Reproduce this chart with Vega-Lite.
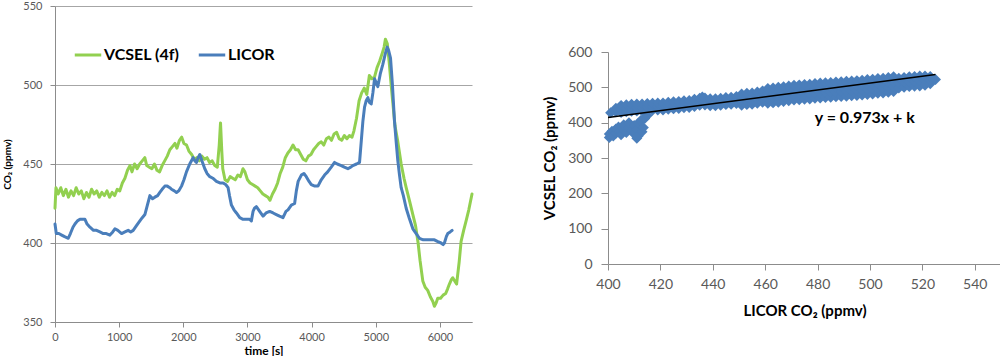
{
"$schema": "https://vega.github.io/schema/vega-lite/v6.json",
"padding": {"left": 2, "top": 0, "right": 0, "bottom": 0},
"spacing": 68,
"config": {
  "font": "Lato",
  "view": {"stroke": null},
  "axis": {"domainColor": "#8c8c8c", "tickColor": "#8c8c8c", "labelColor": "#595959", "titleColor": "#000000", "titleFontWeight": "bold", "grid": false, "labelFont": "Lato", "titleFont": "Lato", "labelFlush": false}
},
"datasets": {
"ts": [
{"s":"VCSEL (4f)","t":0,"v":422},{"s":"VCSEL (4f)","t":15,"v":435},{"s":"VCSEL (4f)","t":50,"v":431},{"s":"VCSEL (4f)","t":90,"v":435},{"s":"VCSEL (4f)","t":130,"v":430},{"s":"VCSEL (4f)","t":170,"v":434},{"s":"VCSEL (4f)","t":210,"v":429},{"s":"VCSEL (4f)","t":250,"v":433},{"s":"VCSEL (4f)","t":290,"v":430},{"s":"VCSEL (4f)","t":330,"v":435},{"s":"VCSEL (4f)","t":370,"v":431},{"s":"VCSEL (4f)","t":410,"v":433},{"s":"VCSEL (4f)","t":450,"v":428},{"s":"VCSEL (4f)","t":490,"v":432},{"s":"VCSEL (4f)","t":530,"v":429},{"s":"VCSEL (4f)","t":570,"v":434},{"s":"VCSEL (4f)","t":610,"v":431},{"s":"VCSEL (4f)","t":650,"v":433},{"s":"VCSEL (4f)","t":690,"v":429},{"s":"VCSEL (4f)","t":730,"v":432},{"s":"VCSEL (4f)","t":770,"v":430},{"s":"VCSEL (4f)","t":810,"v":433},{"s":"VCSEL (4f)","t":850,"v":429},{"s":"VCSEL (4f)","t":890,"v":432},{"s":"VCSEL (4f)","t":930,"v":430},{"s":"VCSEL (4f)","t":970,"v":434},{"s":"VCSEL (4f)","t":1010,"v":433},{"s":"VCSEL (4f)","t":1050,"v":438},{"s":"VCSEL (4f)","t":1090,"v":441},{"s":"VCSEL (4f)","t":1130,"v":446},{"s":"VCSEL (4f)","t":1170,"v":449},{"s":"VCSEL (4f)","t":1200,"v":445},{"s":"VCSEL (4f)","t":1240,"v":450},{"s":"VCSEL (4f)","t":1280,"v":447},{"s":"VCSEL (4f)","t":1320,"v":450},{"s":"VCSEL (4f)","t":1360,"v":452},{"s":"VCSEL (4f)","t":1400,"v":454},{"s":"VCSEL (4f)","t":1430,"v":449},{"s":"VCSEL (4f)","t":1470,"v":448},{"s":"VCSEL (4f)","t":1510,"v":447},{"s":"VCSEL (4f)","t":1550,"v":450},{"s":"VCSEL (4f)","t":1590,"v":446},{"s":"VCSEL (4f)","t":1630,"v":445},{"s":"VCSEL (4f)","t":1670,"v":449},{"s":"VCSEL (4f)","t":1710,"v":452},{"s":"VCSEL (4f)","t":1750,"v":455},{"s":"VCSEL (4f)","t":1790,"v":459},{"s":"VCSEL (4f)","t":1830,"v":461},{"s":"VCSEL (4f)","t":1870,"v":463},{"s":"VCSEL (4f)","t":1900,"v":460},{"s":"VCSEL (4f)","t":1940,"v":465},{"s":"VCSEL (4f)","t":1975,"v":467},{"s":"VCSEL (4f)","t":2010,"v":463},{"s":"VCSEL (4f)","t":2050,"v":462},{"s":"VCSEL (4f)","t":2090,"v":458},{"s":"VCSEL (4f)","t":2130,"v":456},{"s":"VCSEL (4f)","t":2170,"v":453},{"s":"VCSEL (4f)","t":2210,"v":454},{"s":"VCSEL (4f)","t":2250,"v":452},{"s":"VCSEL (4f)","t":2290,"v":455},{"s":"VCSEL (4f)","t":2330,"v":453},{"s":"VCSEL (4f)","t":2370,"v":454},{"s":"VCSEL (4f)","t":2410,"v":451},{"s":"VCSEL (4f)","t":2450,"v":452},{"s":"VCSEL (4f)","t":2490,"v":449},{"s":"VCSEL (4f)","t":2530,"v":448},{"s":"VCSEL (4f)","t":2560,"v":462},{"s":"VCSEL (4f)","t":2580,"v":476},{"s":"VCSEL (4f)","t":2600,"v":458},{"s":"VCSEL (4f)","t":2615,"v":447},{"s":"VCSEL (4f)","t":2650,"v":440},{"s":"VCSEL (4f)","t":2690,"v":439},{"s":"VCSEL (4f)","t":2730,"v":442},{"s":"VCSEL (4f)","t":2770,"v":441},{"s":"VCSEL (4f)","t":2810,"v":440},{"s":"VCSEL (4f)","t":2850,"v":443},{"s":"VCSEL (4f)","t":2890,"v":442},{"s":"VCSEL (4f)","t":2930,"v":447},{"s":"VCSEL (4f)","t":2960,"v":445},{"s":"VCSEL (4f)","t":3000,"v":440},{"s":"VCSEL (4f)","t":3040,"v":438},{"s":"VCSEL (4f)","t":3080,"v":437},{"s":"VCSEL (4f)","t":3120,"v":436},{"s":"VCSEL (4f)","t":3160,"v":435},{"s":"VCSEL (4f)","t":3200,"v":433},{"s":"VCSEL (4f)","t":3240,"v":431},{"s":"VCSEL (4f)","t":3280,"v":430},{"s":"VCSEL (4f)","t":3320,"v":429},{"s":"VCSEL (4f)","t":3350,"v":427},{"s":"VCSEL (4f)","t":3390,"v":431},{"s":"VCSEL (4f)","t":3430,"v":434},{"s":"VCSEL (4f)","t":3470,"v":438},{"s":"VCSEL (4f)","t":3510,"v":444},{"s":"VCSEL (4f)","t":3550,"v":448},{"s":"VCSEL (4f)","t":3590,"v":454},{"s":"VCSEL (4f)","t":3630,"v":457},{"s":"VCSEL (4f)","t":3670,"v":459},{"s":"VCSEL (4f)","t":3710,"v":462},{"s":"VCSEL (4f)","t":3750,"v":459},{"s":"VCSEL (4f)","t":3790,"v":459},{"s":"VCSEL (4f)","t":3830,"v":456},{"s":"VCSEL (4f)","t":3870,"v":453},{"s":"VCSEL (4f)","t":3910,"v":452},{"s":"VCSEL (4f)","t":3950,"v":455},{"s":"VCSEL (4f)","t":3990,"v":456},{"s":"VCSEL (4f)","t":4030,"v":459},{"s":"VCSEL (4f)","t":4070,"v":461},{"s":"VCSEL (4f)","t":4110,"v":463},{"s":"VCSEL (4f)","t":4150,"v":464},{"s":"VCSEL (4f)","t":4190,"v":462},{"s":"VCSEL (4f)","t":4230,"v":466},{"s":"VCSEL (4f)","t":4270,"v":467},{"s":"VCSEL (4f)","t":4310,"v":465},{"s":"VCSEL (4f)","t":4350,"v":469},{"s":"VCSEL (4f)","t":4390,"v":470},{"s":"VCSEL (4f)","t":4430,"v":466},{"s":"VCSEL (4f)","t":4470,"v":465},{"s":"VCSEL (4f)","t":4510,"v":468},{"s":"VCSEL (4f)","t":4550,"v":466},{"s":"VCSEL (4f)","t":4590,"v":468},{"s":"VCSEL (4f)","t":4630,"v":467},{"s":"VCSEL (4f)","t":4660,"v":471},{"s":"VCSEL (4f)","t":4700,"v":479},{"s":"VCSEL (4f)","t":4740,"v":490},{"s":"VCSEL (4f)","t":4780,"v":495},{"s":"VCSEL (4f)","t":4820,"v":498},{"s":"VCSEL (4f)","t":4860,"v":494},{"s":"VCSEL (4f)","t":4900,"v":506},{"s":"VCSEL (4f)","t":4940,"v":504},{"s":"VCSEL (4f)","t":4980,"v":505},{"s":"VCSEL (4f)","t":5020,"v":511},{"s":"VCSEL (4f)","t":5060,"v":515},{"s":"VCSEL (4f)","t":5100,"v":520},{"s":"VCSEL (4f)","t":5130,"v":524},{"s":"VCSEL (4f)","t":5150,"v":529},{"s":"VCSEL (4f)","t":5180,"v":526},{"s":"VCSEL (4f)","t":5210,"v":514},{"s":"VCSEL (4f)","t":5240,"v":500},{"s":"VCSEL (4f)","t":5270,"v":487},{"s":"VCSEL (4f)","t":5300,"v":474},{"s":"VCSEL (4f)","t":5340,"v":465},{"s":"VCSEL (4f)","t":5396,"v":450},{"s":"VCSEL (4f)","t":5440,"v":441},{"s":"VCSEL (4f)","t":5474,"v":435},{"s":"VCSEL (4f)","t":5530,"v":426},{"s":"VCSEL (4f)","t":5578,"v":418},{"s":"VCSEL (4f)","t":5620,"v":411},{"s":"VCSEL (4f)","t":5660,"v":400},{"s":"VCSEL (4f)","t":5690,"v":389},{"s":"VCSEL (4f)","t":5733,"v":376},{"s":"VCSEL (4f)","t":5770,"v":372},{"s":"VCSEL (4f)","t":5810,"v":370},{"s":"VCSEL (4f)","t":5850,"v":366},{"s":"VCSEL (4f)","t":5890,"v":363},{"s":"VCSEL (4f)","t":5914,"v":360},{"s":"VCSEL (4f)","t":5940,"v":362},{"s":"VCSEL (4f)","t":5966,"v":365},{"s":"VCSEL (4f)","t":6010,"v":365},{"s":"VCSEL (4f)","t":6050,"v":367},{"s":"VCSEL (4f)","t":6090,"v":368},{"s":"VCSEL (4f)","t":6120,"v":371},{"s":"VCSEL (4f)","t":6148,"v":374},{"s":"VCSEL (4f)","t":6180,"v":377},{"s":"VCSEL (4f)","t":6200,"v":378},{"s":"VCSEL (4f)","t":6230,"v":376},{"s":"VCSEL (4f)","t":6260,"v":374},{"s":"VCSEL (4f)","t":6300,"v":388},{"s":"VCSEL (4f)","t":6330,"v":401},{"s":"VCSEL (4f)","t":6370,"v":408},{"s":"VCSEL (4f)","t":6408,"v":414},{"s":"VCSEL (4f)","t":6450,"v":421},{"s":"VCSEL (4f)","t":6500,"v":431},
{"s":"LICOR","t":0,"v":412},{"s":"LICOR","t":20,"v":406},{"s":"LICOR","t":60,"v":406},{"s":"LICOR","t":104,"v":405},{"s":"LICOR","t":150,"v":404},{"s":"LICOR","t":207,"v":403},{"s":"LICOR","t":240,"v":406},{"s":"LICOR","t":280,"v":410},{"s":"LICOR","t":311,"v":412},{"s":"LICOR","t":350,"v":414},{"s":"LICOR","t":389,"v":415},{"s":"LICOR","t":430,"v":415},{"s":"LICOR","t":467,"v":415},{"s":"LICOR","t":500,"v":412},{"s":"LICOR","t":545,"v":410},{"s":"LICOR","t":600,"v":408},{"s":"LICOR","t":648,"v":408},{"s":"LICOR","t":700,"v":407},{"s":"LICOR","t":752,"v":406},{"s":"LICOR","t":800,"v":406},{"s":"LICOR","t":856,"v":405},{"s":"LICOR","t":900,"v":407},{"s":"LICOR","t":934,"v":409},{"s":"LICOR","t":980,"v":408},{"s":"LICOR","t":1038,"v":406},{"s":"LICOR","t":1090,"v":407},{"s":"LICOR","t":1141,"v":408},{"s":"LICOR","t":1180,"v":407},{"s":"LICOR","t":1219,"v":408},{"s":"LICOR","t":1270,"v":411},{"s":"LICOR","t":1323,"v":414},{"s":"LICOR","t":1360,"v":416},{"s":"LICOR","t":1401,"v":418},{"s":"LICOR","t":1440,"v":424},{"s":"LICOR","t":1479,"v":430},{"s":"LICOR","t":1520,"v":428},{"s":"LICOR","t":1556,"v":429},{"s":"LICOR","t":1600,"v":430},{"s":"LICOR","t":1634,"v":432},{"s":"LICOR","t":1670,"v":434},{"s":"LICOR","t":1712,"v":436},{"s":"LICOR","t":1750,"v":436},{"s":"LICOR","t":1790,"v":435},{"s":"LICOR","t":1816,"v":434},{"s":"LICOR","t":1860,"v":433},{"s":"LICOR","t":1894,"v":432},{"s":"LICOR","t":1930,"v":433},{"s":"LICOR","t":1972,"v":436},{"s":"LICOR","t":2010,"v":440},{"s":"LICOR","t":2049,"v":445},{"s":"LICOR","t":2100,"v":450},{"s":"LICOR","t":2153,"v":454},{"s":"LICOR","t":2180,"v":452},{"s":"LICOR","t":2205,"v":451},{"s":"LICOR","t":2230,"v":454},{"s":"LICOR","t":2257,"v":456},{"s":"LICOR","t":2290,"v":452},{"s":"LICOR","t":2335,"v":447},{"s":"LICOR","t":2370,"v":444},{"s":"LICOR","t":2413,"v":442},{"s":"LICOR","t":2460,"v":441},{"s":"LICOR","t":2516,"v":439},{"s":"LICOR","t":2570,"v":438},{"s":"LICOR","t":2620,"v":438},{"s":"LICOR","t":2660,"v":437},{"s":"LICOR","t":2698,"v":435},{"s":"LICOR","t":2720,"v":430},{"s":"LICOR","t":2750,"v":424},{"s":"LICOR","t":2790,"v":421},{"s":"LICOR","t":2828,"v":419},{"s":"LICOR","t":2880,"v":416},{"s":"LICOR","t":2931,"v":415},{"s":"LICOR","t":2980,"v":415},{"s":"LICOR","t":3035,"v":415},{"s":"LICOR","t":3061,"v":414},{"s":"LICOR","t":3087,"v":420},{"s":"LICOR","t":3110,"v":422},{"s":"LICOR","t":3139,"v":423},{"s":"LICOR","t":3190,"v":420},{"s":"LICOR","t":3243,"v":417},{"s":"LICOR","t":3290,"v":419},{"s":"LICOR","t":3346,"v":420},{"s":"LICOR","t":3400,"v":419},{"s":"LICOR","t":3450,"v":418},{"s":"LICOR","t":3500,"v":417},{"s":"LICOR","t":3554,"v":416},{"s":"LICOR","t":3600,"v":420},{"s":"LICOR","t":3632,"v":421},{"s":"LICOR","t":3684,"v":424},{"s":"LICOR","t":3735,"v":425},{"s":"LICOR","t":3762,"v":433},{"s":"LICOR","t":3790,"v":439},{"s":"LICOR","t":3840,"v":443},{"s":"LICOR","t":3880,"v":444},{"s":"LICOR","t":3917,"v":442},{"s":"LICOR","t":3960,"v":439},{"s":"LICOR","t":3995,"v":437},{"s":"LICOR","t":4050,"v":436},{"s":"LICOR","t":4099,"v":436},{"s":"LICOR","t":4150,"v":440},{"s":"LICOR","t":4202,"v":443},{"s":"LICOR","t":4250,"v":445},{"s":"LICOR","t":4306,"v":448},{"s":"LICOR","t":4358,"v":451},{"s":"LICOR","t":4400,"v":450},{"s":"LICOR","t":4462,"v":449},{"s":"LICOR","t":4510,"v":448},{"s":"LICOR","t":4565,"v":447},{"s":"LICOR","t":4610,"v":448},{"s":"LICOR","t":4643,"v":449},{"s":"LICOR","t":4700,"v":450},{"s":"LICOR","t":4747,"v":451},{"s":"LICOR","t":4775,"v":465},{"s":"LICOR","t":4799,"v":477},{"s":"LICOR","t":4825,"v":486},{"s":"LICOR","t":4850,"v":490},{"s":"LICOR","t":4877,"v":492},{"s":"LICOR","t":4900,"v":489},{"s":"LICOR","t":4929,"v":488},{"s":"LICOR","t":4955,"v":495},{"s":"LICOR","t":4981,"v":504},{"s":"LICOR","t":5010,"v":501},{"s":"LICOR","t":5032,"v":499},{"s":"LICOR","t":5070,"v":507},{"s":"LICOR","t":5110,"v":513},{"s":"LICOR","t":5150,"v":520},{"s":"LICOR","t":5178,"v":524},{"s":"LICOR","t":5200,"v":522},{"s":"LICOR","t":5230,"v":517},{"s":"LICOR","t":5260,"v":500},{"s":"LICOR","t":5292,"v":477},{"s":"LICOR","t":5320,"v":463},{"s":"LICOR","t":5344,"v":452},{"s":"LICOR","t":5370,"v":443},{"s":"LICOR","t":5396,"v":435},{"s":"LICOR","t":5430,"v":430},{"s":"LICOR","t":5474,"v":422},{"s":"LICOR","t":5520,"v":416},{"s":"LICOR","t":5578,"v":409},{"s":"LICOR","t":5630,"v":406},{"s":"LICOR","t":5681,"v":403},{"s":"LICOR","t":5740,"v":402},{"s":"LICOR","t":5810,"v":402},{"s":"LICOR","t":5860,"v":402},{"s":"LICOR","t":5914,"v":402},{"s":"LICOR","t":5960,"v":401},{"s":"LICOR","t":6018,"v":400},{"s":"LICOR","t":6050,"v":399},{"s":"LICOR","t":6070,"v":400},{"s":"LICOR","t":6100,"v":404},{"s":"LICOR","t":6122,"v":406},{"s":"LICOR","t":6160,"v":407},{"s":"LICOR","t":6190,"v":408}
],
"sc": [
{"l":401,"v":428},{"l":403,"v":431},{"l":403,"v":441},
{"l":405,"v":429},{"l":405,"v":439},{"l":405,"v":449},{"l":407,"v":431},{"l":407,"v":441},{"l":407,"v":451},{"l":409,"v":432},{"l":409,"v":442},{"l":409,"v":452},{"l":411,"v":433},{"l":411,"v":443},{"l":411,"v":453},{"l":413,"v":433},{"l":413,"v":443},{"l":413,"v":453},{"l":415,"v":434},{"l":415,"v":444},{"l":415,"v":454},{"l":417,"v":435},{"l":417,"v":445},{"l":417,"v":455},{"l":419,"v":436},{"l":419,"v":446},{"l":419,"v":456},{"l":421,"v":436},{"l":421,"v":446},{"l":421,"v":456},{"l":423,"v":438},{"l":423,"v":448},{"l":423,"v":458},{"l":425,"v":439},{"l":425,"v":449},{"l":425,"v":459},{"l":427,"v":440},{"l":427,"v":450},{"l":427,"v":460},{"l":429,"v":442},{"l":429,"v":452},{"l":429,"v":462},{"l":431,"v":443},{"l":431,"v":453},{"l":431,"v":463},{"l":433,"v":446},{"l":433,"v":456},{"l":433,"v":466},{"l":435,"v":449},{"l":435,"v":459},{"l":435,"v":469},{"l":436,"v":473},{"l":437,"v":450},{"l":437,"v":460},{"l":437,"v":470},{"l":439,"v":448},{"l":439,"v":458},{"l":439,"v":468},{"l":441,"v":448},{"l":441,"v":458},{"l":441,"v":468},{"l":443,"v":449},{"l":443,"v":459},{"l":443,"v":469},{"l":445,"v":451},{"l":445,"v":461},{"l":445,"v":471},{"l":447,"v":452},{"l":447,"v":462},{"l":447,"v":472},{"l":449,"v":454},{"l":449,"v":464},{"l":449,"v":474},
{"l":451,"v":449},{"l":451,"v":460},{"l":451,"v":470},{"l":451,"v":481},{"l":453,"v":451},{"l":453,"v":462},{"l":453,"v":472},{"l":453,"v":483},{"l":455,"v":452},{"l":455,"v":463},{"l":455,"v":473},{"l":455,"v":484},{"l":457,"v":455},{"l":457,"v":466},{"l":457,"v":476},{"l":457,"v":487},{"l":459,"v":458},{"l":459,"v":469},{"l":459,"v":479},{"l":459,"v":490},
{"l":461,"v":455},{"l":461,"v":469},{"l":461,"v":483},{"l":461,"v":497},{"l":463,"v":456},{"l":463,"v":470},{"l":463,"v":484},{"l":463,"v":498},{"l":465,"v":458},{"l":465,"v":472},{"l":465,"v":486},{"l":465,"v":500},{"l":467,"v":460},{"l":467,"v":474},{"l":467,"v":488},{"l":467,"v":502},{"l":469,"v":462},{"l":469,"v":476},{"l":469,"v":490},{"l":469,"v":504},{"l":471,"v":464},{"l":471,"v":478},{"l":471,"v":492},{"l":471,"v":506},{"l":473,"v":465},{"l":473,"v":479},{"l":473,"v":493},{"l":473,"v":507},{"l":475,"v":466},{"l":475,"v":480},{"l":475,"v":494},{"l":475,"v":508},{"l":477,"v":467},{"l":477,"v":481},{"l":477,"v":495},{"l":477,"v":509},{"l":479,"v":469},{"l":479,"v":483},{"l":479,"v":497},{"l":479,"v":511},{"l":481,"v":470},{"l":481,"v":484},{"l":481,"v":498},{"l":481,"v":512},{"l":483,"v":471},{"l":483,"v":485},{"l":483,"v":499},{"l":483,"v":513},{"l":485,"v":472},{"l":485,"v":486},{"l":485,"v":500},{"l":485,"v":514},{"l":487,"v":473},{"l":487,"v":487},{"l":487,"v":501},{"l":487,"v":515},{"l":489,"v":474},{"l":489,"v":488},{"l":489,"v":502},{"l":489,"v":516},{"l":491,"v":475},{"l":491,"v":489},{"l":491,"v":503},{"l":491,"v":517},{"l":493,"v":476},{"l":493,"v":490},{"l":493,"v":504},{"l":493,"v":518},{"l":495,"v":477},{"l":495,"v":491},{"l":495,"v":505},{"l":495,"v":519},{"l":497,"v":478},{"l":497,"v":492},{"l":497,"v":506},{"l":497,"v":520},{"l":499,"v":480},{"l":499,"v":494},{"l":499,"v":508},{"l":499,"v":522},{"l":501,"v":481},{"l":501,"v":495},{"l":501,"v":509},{"l":501,"v":523},{"l":503,"v":483},{"l":503,"v":497},{"l":503,"v":511},{"l":503,"v":525},{"l":505,"v":484},{"l":505,"v":498},{"l":505,"v":512},{"l":505,"v":526},{"l":507,"v":486},{"l":507,"v":500},{"l":507,"v":514},{"l":507,"v":528},{"l":509,"v":488},{"l":509,"v":502},{"l":509,"v":516},{"l":509,"v":530},
{"l":511,"v":498},{"l":511,"v":512},{"l":511,"v":526},{"l":513,"v":500},{"l":513,"v":514},{"l":513,"v":528},{"l":515,"v":502},{"l":515,"v":516},{"l":515,"v":530},{"l":517,"v":503},{"l":517,"v":517},{"l":517,"v":531},{"l":519,"v":504},{"l":519,"v":518},{"l":519,"v":532},{"l":521,"v":506},{"l":521,"v":519},{"l":521,"v":532},{"l":523,"v":510},{"l":523,"v":521},{"l":523,"v":531},{"l":525,"v":522},
{"l":400.5,"v":358},{"l":400.5,"v":368},{"l":401.5,"v":376},{"l":402,"v":362},{"l":403,"v":370},{"l":403,"v":382},{"l":404,"v":388},{"l":404.5,"v":376},{"l":405,"v":366},{"l":406,"v":380},{"l":406,"v":394},{"l":407,"v":372},{"l":408,"v":386},{"l":408,"v":400},{"l":409,"v":378},{"l":410,"v":392},{"l":410,"v":368},{"l":411,"v":356},{"l":411,"v":380},{"l":411.5,"v":362},{"l":411.5,"v":398},{"l":412.5,"v":406},{"l":413,"v":374},{"l":413.5,"v":386},{"l":414,"v":412},{"l":415,"v":420}
],
"trend": [{"l":400,"v":414.6},{"l":525,"v":536.2}],
"eq": [{"l":498,"v":413,"label":"y = 0.973x + k"}]
},
"hconcat": [
{
  "width": 417, "height": 316,
  "data": {"name": "ts"},
  "mark": {"type": "line", "strokeWidth": 3, "strokeJoin": "round", "strokeCap": "round"},
  "encoding": {
    "x": {"field": "t", "type": "quantitative", "scale": {"domain": [0, 6500], "nice": false}, "axis": {"values": [0,1000,2000,3000,4000,5000,6000], "format": "d", "title": "time [s]", "labelFontSize": 11, "titleFontSize": 12, "tickSize": 5, "labelPadding": 4, "titlePadding": 3}},
    "y": {"field": "v", "type": "quantitative", "scale": {"domain": [350, 550], "nice": false, "zero": false}, "axis": {"values": [350,400,450,500,550], "grid": true, "gridColor": "#a6a6a6", "title": "CO₂ (ppmv)", "labelFontSize": 11, "titleFontSize": 10, "tickSize": 5, "labelPadding": 8, "titlePadding": 10}},
    "color": {"field": "s", "type": "nominal", "sort": ["VCSEL (4f)", "LICOR"], "scale": {"domain": ["VCSEL (4f)", "LICOR"], "range": ["#92d050", "#4a7ebb"]},
      "legend": {"title": null, "orient": "none", "legendX": 18, "legendY": 34, "direction": "horizontal", "symbolType": "stroke", "symbolSize": 700, "symbolStrokeWidth": 3, "labelFontSize": 16, "labelFontWeight": "bold", "labelColor": "#000000", "labelOffset": 1, "columnPadding": 12, "labelLimit": 200}}
  }
},
{
  "spacing": 38,
  "vconcat": [
    {"width": 393, "height": 1, "data": {"values": []}, "mark": "point"},
    {
      "width": 393, "height": 212,
      "encoding": {
        "x": {"field": "l", "type": "quantitative", "scale": {"domain": [400, 550], "nice": false, "zero": false}, "axis": {"values": [400,420,440,460,480,500,520,540], "title": "LICOR CO₂ (ppmv)", "labelFontSize": 14, "titleFontSize": 15, "tickSize": 6, "labelPadding": 7, "titlePadding": 12}},
        "y": {"field": "v", "type": "quantitative", "scale": {"domain": [0, 600], "nice": false}, "axis": {"values": [0,100,200,300,400,500,600], "title": "VCSEL CO₂ (ppmv)", "labelFontSize": 14, "titleFontSize": 15, "tickSize": 7, "labelPadding": 9, "titlePadding": 10}}
      },
      "layer": [
        {"data": {"name": "sc"}, "mark": {"type": "point", "shape": "diamond", "filled": true, "size": 120, "color": "#4a7ebb", "opacity": 1}},
        {"data": {"name": "trend"}, "mark": {"type": "line", "color": "#000000", "strokeWidth": 1.5}},
        {"data": {"name": "eq"}, "mark": {"type": "text", "fontSize": 16, "fontWeight": "bold", "color": "#000000"}, "encoding": {"text": {"field": "label"}}}
      ]
    }
  ]
}
]
}
